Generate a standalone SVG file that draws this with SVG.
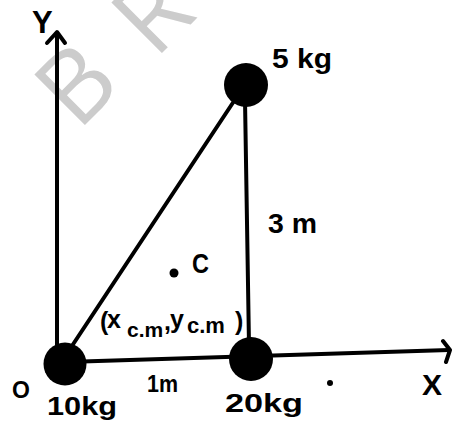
<svg xmlns="http://www.w3.org/2000/svg" width="452" height="422" viewBox="0 0 452 422">
<style>
.ln{stroke:#000;stroke-width:4;fill:none;stroke-linecap:round;stroke-linejoin:round}
.mass{fill:#000}
.lbl{font-family:"Liberation Sans",Arial,sans-serif;font-weight:bold;fill:#000}
.wm{font-family:"Open Sans","Liberation Sans",sans-serif;font-weight:400;fill:#cccccc}
</style>
<rect width="452" height="422" fill="#fff"/>
<g id="watermark">
<text class="wm" font-size="100" transform="translate(78,132) rotate(-45)">B</text>
<text class="wm" font-size="100" transform="translate(155,60) rotate(-45)">R</text>
</g>
<g id="connectors">
<path class="ln" d="M57,362 L57,34"/>
<path class="ln" d="M47,43 L57,32 L65,43"/>
<path class="ln" d="M66,362 L449,350"/>
<path class="ln" d="M443,341 L450,350 L446,362"/>
<path class="ln" d="M64,358 L240,92"/>
<path class="ln" d="M245,100 L249,345"/>
</g>
<g id="axis-y"><text class="lbl" x="32" y="33" font-size="31">Y</text></g>
<g id="axis-x"><text class="lbl" x="422" y="395" font-size="30">X</text></g>
<g id="origin">
<circle class="mass" cx="65" cy="364" r="21.5"/>
<text class="lbl" x="12" y="398" font-size="23">O</text>
<text class="lbl" x="47" y="415" font-size="25" textLength="70" lengthAdjust="spacingAndGlyphs">10kg</text>
</g>
<g id="mass-20kg">
<circle class="mass" cx="251" cy="359" r="22"/>
<text class="lbl" x="225" y="412" font-size="26" textLength="78" lengthAdjust="spacingAndGlyphs">20kg</text>
</g>
<g id="mass-5kg">
<circle class="mass" cx="246" cy="85" r="22"/>
<text class="lbl" x="272" y="68" font-size="27" textLength="60" lengthAdjust="spacingAndGlyphs">5 kg</text>
</g>
<g id="label-3m"><text class="lbl" x="268" y="233" font-size="27" textLength="49" lengthAdjust="spacingAndGlyphs">3 m</text></g>
<g id="label-1m"><text class="lbl" x="147" y="392" font-size="24" textLength="31" lengthAdjust="spacingAndGlyphs">1m</text></g>
<g id="center-of-mass">
<circle class="mass" cx="174" cy="273" r="4.5"/>
<text class="lbl" x="192" y="273" font-size="28" textLength="17" lengthAdjust="spacingAndGlyphs">C</text>
<text class="lbl" font-size="25"><tspan x="100" y="330">(</tspan><tspan x="107" y="328">x</tspan><tspan x="127" y="337" font-size="21">c.m</tspan><tspan x="164" y="330">,</tspan><tspan x="170" y="328">y</tspan><tspan x="187" y="333" font-size="22">c.m</tspan><tspan x="235" y="330">)</tspan></text>
</g>
<g id="speck"><circle class="mass" cx="330" cy="383" r="3"/></g>
</svg>
